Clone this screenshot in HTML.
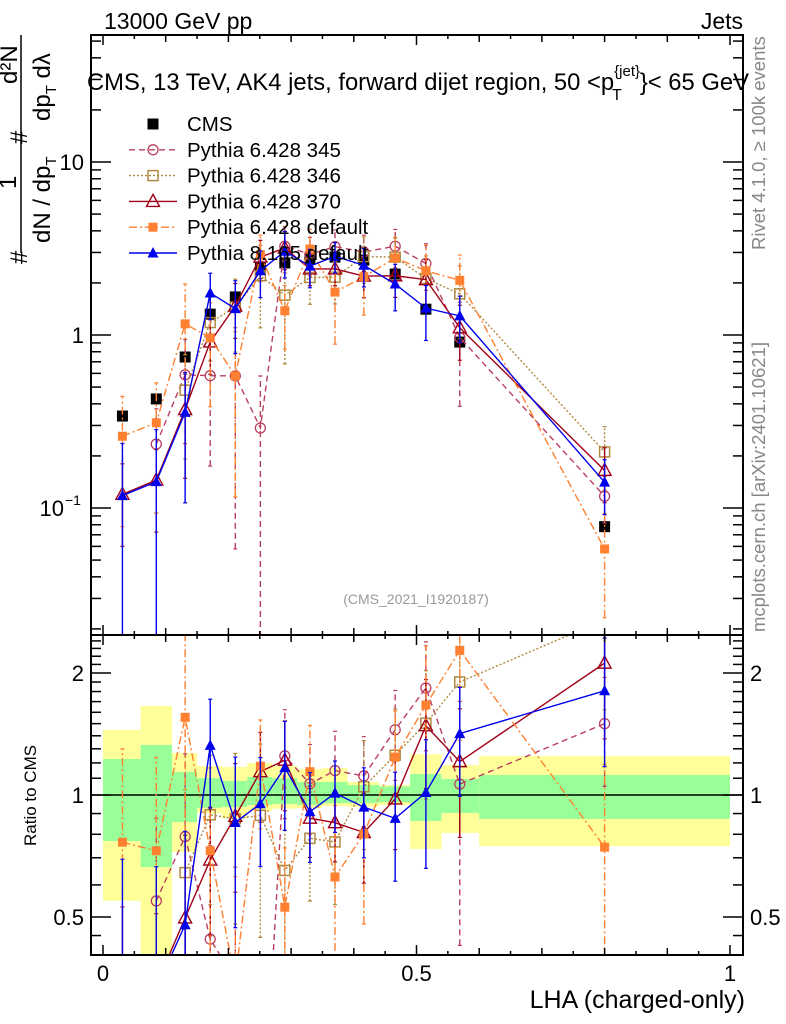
<!DOCTYPE html>
<html><head><meta charset="utf-8"><style>
html,body{margin:0;padding:0;background:#fff;overflow:hidden;width:786px;height:1024px}
svg{display:block}
svg text{font-family:"Liberation Sans",sans-serif}
</style></head><body>
<svg id="c" width="786" height="1024" xmlns="http://www.w3.org/2000/svg">
<defs>
<clipPath id="cpTop"><rect x="91" y="35" width="652" height="600"/></clipPath>
<clipPath id="cpBot"><rect x="91" y="635" width="652" height="320"/></clipPath>
</defs>
<g id="bands" clip-path="url(#cpBot)"></g>
<g id="topMarks" clip-path="url(#cpTop)"></g>
<g id="botMarks" clip-path="url(#cpBot)"></g>
<g id="axes"></g>
<text x="104" y="29" font-size="23">13000 GeV pp</text>
<text x="743" y="29" font-size="23" text-anchor="end">Jets</text>
<text x="87" y="90" font-size="23.8">CMS, 13 TeV, AK4 jets, forward dijet region, 50 &lt;p<tspan font-size="15" dy="-14">{jet}</tspan><tspan font-size="16" dx="-28" dy="24">T</tspan><tspan dx="18" dy="-10">}&lt; 65 GeV</tspan></text>
<text x="416" y="604" font-size="14" fill="#999" text-anchor="middle">(CMS_2021_I1920187)</text>
<g transform="translate(765,250) rotate(-90)"><text font-size="18.5" fill="#888">Rivet 4.1.0, ≥ 100k events</text></g>
<g transform="translate(765,632) rotate(-90)"><text font-size="18.5" fill="#888">mcplots.cern.ch [arXiv:2401.10621]</text></g>
<g>
<g transform="translate(27,264) rotate(-90)"><text font-size="24">#</text></g>
<g transform="translate(16,189) rotate(-90)"><text font-size="24">1</text></g>
<line x1="21" y1="35" x2="21" y2="253" stroke="#000" stroke-width="1.5"/>
<g transform="translate(50,243) rotate(-90)"><text font-size="24">dN / dp<tspan font-size="15" dy="6">T</tspan></text></g>
<g transform="translate(27,144) rotate(-90)"><text font-size="24">#</text></g>
<g transform="translate(50,121) rotate(-90)"><text font-size="24">dp<tspan font-size="15" dy="6">T</tspan><tspan dy="-6"> dλ</tspan></text></g>
<g transform="translate(17,84) rotate(-90)"><text font-size="24">d²N</text></g>
</g>
<g transform="translate(36,846) rotate(-90)"><text font-size="17">Ratio to CMS</text></g>
<text x="745" y="1008" font-size="25" text-anchor="end">LHA (charged-only)</text>
<g id="legend"></g>
</svg>
<script>
const xs = [0.031,0.085,0.131,0.171,0.211,0.251,0.290,0.330,0.370,0.416,0.466,0.515,0.569,0.800];
const binEdges = [0,0.06,0.11,0.15,0.19,0.23,0.27,0.31,0.35,0.39,0.44,0.49,0.54,0.60,1.0];
const cms = [0.34,0.427,0.746,1.32,1.66,2.47,2.61,2.75,2.82,2.71,2.25,1.41,0.91,0.078];
const yellowHi = [1.447,1.658,1.27,1.179,1.173,1.199,1.18,1.159,1.165,1.077,1.058,1.26,1.186,1.248];
const yellowLo = [0.548,0.35,0.723,0.902,0.877,0.913,0.925,0.929,0.94,0.934,0.945,0.736,0.806,0.748];
const greenHi = [1.227,1.329,1.14,1.1,1.083,1.108,1.1,1.077,1.077,1.058,1.05,1.127,1.095,1.12];
const greenLo = [0.77,0.664,0.858,0.93,0.934,0.945,0.95,0.945,0.955,0.955,0.96,0.863,0.903,0.873];
const p345 = [null,0.234,0.589,0.582,0.58,0.29,3.26,2.93,3.24,3.02,3.26,2.59,0.968,0.117];
const p346 = [null,null,0.48,1.18,1.45,2.2,1.70,2.15,2.16,2.84,2.82,2.12,1.73,0.211];
const p370 = [0.12,0.145,0.371,0.912,1.47,2.82,3.18,2.41,2.41,2.19,2.2,2.09,1.10,0.165];
const pdef = [0.26,0.311,1.16,0.962,0.58,2.91,1.38,3.14,1.77,2.17,2.79,2.35,2.07,0.058];
const p8 = [0.118,0.142,0.357,1.75,1.42,2.35,3.05,2.50,2.85,2.53,1.97,1.43,1.29,0.141];
const e345 = [0.6,0.6,0.6,0.7,0.9,1.0,0.3,0.25,0.25,0.25,0.25,0.3,0.6,0.3];
const e346 = [0.6,0.6,0.6,0.4,0.45,0.5,0.6,0.3,0.3,0.3,0.3,0.35,0.45,0.4];
const e370 = [0.5,0.5,0.6,0.35,0.35,0.25,0.25,0.2,0.2,0.25,0.25,0.3,0.35,0.35];
const edef = [0.7,0.7,0.7,0.6,0.8,0.3,0.4,0.3,0.5,0.4,0.3,0.4,0.4,0.6];
const e8 = [1.0,1.0,0.7,0.3,0.45,0.3,0.3,0.25,0.2,0.25,0.3,0.35,0.3,0.35];
const xTickLabels = ["0","0.5","1"];
const ratioTickLabels = ["0.5","1","2"];

const NS="http://www.w3.org/2000/svg";
const X=v=>103+627*v;
const YT=v=>335-173*Math.log10(v);
const YR=r=>795-122*Math.log2(r);
function mk(tag,attrs,parent){const e=document.createElementNS(NS,tag);for(const k in attrs)e.setAttribute(k,attrs[k]);parent.appendChild(e);return e;}
const bands=document.getElementById('bands'),top_=document.getElementById('topMarks'),bot=document.getElementById('botMarks'),axes=document.getElementById('axes'),leg=document.getElementById('legend');

for(let i=0;i<xs.length;i++){
  const x0=X(binEdges[i]),x1=X(binEdges[i+1]);
  const y=mk('rect',{x:x0,y:YR(yellowHi[i]),width:x1-x0,height:YR(yellowLo[i])-YR(yellowHi[i]),fill:'#ffff99'},bands);
  
  
  const g=mk('rect',{x:x0,y:YR(greenHi[i]),width:x1-x0,height:YR(greenLo[i])-YR(greenHi[i]),fill:'#99ff99'},bands);
  
  
}
const one=mk('line',{x1:91,x2:743,y1:YR(1),y2:YR(1),stroke:'#000','stroke-width':1.5},bands);



const series=[
 {name:'pythia-6-345',label:'Pythia 6.428 345',vals:p345,err:e345,color:'#b8405e',dash:'6,4',mk:'circle'},
 {name:'pythia-6-346',label:'Pythia 6.428 346',vals:p346,err:e346,color:'#b08a40',dash:'2,2',mk:'osquare'},
 {name:'pythia-6-370',label:'Pythia 6.428 370',vals:p370,err:e370,color:'#a00018',dash:'',mk:'otri'},
 {name:'pythia-6-default',label:'Pythia 6.428 default',vals:pdef,err:edef,color:'#ff8030',dash:'8,3,2,3',mk:'fsquare'},
 {name:'pythia-8-default',label:'Pythia 8.165 default',vals:p8,err:e8,color:'#0000ee',dash:'',mk:'ftri'}
];
function marker(type,x,y,color,parent){
  let e;
  if(type==='circle')e=mk('circle',{cx:x,cy:y,r:5,fill:'none',stroke:color,'stroke-width':1.3},parent);
  else if(type==='osquare')e=mk('rect',{x:x-5,y:y-5,width:10,height:10,fill:'#fff','fill-opacity':0,stroke:color,'stroke-width':1.5},parent);
  else if(type==='fsquare')e=mk('rect',{x:x-4.5,y:y-4.5,width:9,height:9,fill:color},parent);
  else if(type==='bsquare')e=mk('rect',{x:x-5.5,y:y-5.5,width:11,height:11,fill:'#000'},parent);
  else if(type==='otri')e=mk('polygon',{points:`${x},${y-7} ${x-6.5},${y+5} ${x+6.5},${y+5}`,fill:'none',stroke:color,'stroke-width':1.4},parent);
  else e=mk('polygon',{points:`${x},${y-6} ${x-5.5},${y+4.5} ${x+5.5},${y+4.5}`,fill:color},parent);
  return e;
}
function drawSeries(s,parent,yf,valf){
  let pts=[];
  for(let i=0;i<xs.length;i++){
    const v=valf(i);
    if(v==null){if(pts.length>1){const pl=mk('polyline',{points:pts.join(' '),fill:'none',stroke:s.color,'stroke-width':1.4,'stroke-dasharray':s.dash},parent);}pts=[];continue;}
    pts.push(X(xs[i])+','+yf(v));
  }
  if(pts.length>1){const pl=mk('polyline',{points:pts.join(' '),fill:'none',stroke:s.color,'stroke-width':1.4,'stroke-dasharray':s.dash},parent);
    
    }
  for(let i=0;i<xs.length;i++){
    const v=valf(i);if(v==null)continue;
    const x=X(xs[i]),lo=v*Math.max(1-s.err[i],0.001),hi=v*(1+s.err[i]);
    const eb=mk('line',{x1:x,x2:x,y1:yf(lo),y2:yf(hi),stroke:s.color,'stroke-width':1.4,'stroke-dasharray':s.dash},parent);
    
    
    mk('line',{x1:x-2,x2:x+2,y1:yf(hi),y2:yf(hi),stroke:s.color,'stroke-width':1.2},parent);
    mk('line',{x1:x-2,x2:x+2,y1:yf(lo),y2:yf(lo),stroke:s.color,'stroke-width':1.2},parent);
    const m=marker(s.mk,x,yf(v),s.color,parent);
    
    
  }
}
for(let i=0;i<xs.length;i++){
  const m=marker('bsquare',X(xs[i]),YT(cms[i]),'#000',top_);
  
  
}
for(const s of series){
  drawSeries(s,top_,YT,i=>s.vals[i]);
  drawSeries(s,bot,YR,i=>s.vals[i]==null?null:s.vals[i]/cms[i]);
}

for(const r of [[91,35,652,600],[91,635,652,320]]){
  const f=mk('rect',{x:r[0],y:r[1],width:r[2],height:r[3],fill:'none',stroke:'#000','stroke-width':2},axes);
  
  
}
for(let k=0;k<=20;k++){
  const v=k*0.05,x=X(v),len=(k%10===0)?20:(k%2===0?14:8);
  for(const yb of [635,955]){mk('line',{x1:x,x2:x,y1:yb-len/2,y2:yb,stroke:'#000','stroke-width':1.5},axes);}
  mk('line',{x1:x,x2:x,y1:35,y2:35+len/2,stroke:'#000','stroke-width':1.5},axes);
  mk('line',{x1:x,x2:x,y1:635,y2:635+len/2,stroke:'#000','stroke-width':1.5},axes);
}
xTickLabels.forEach((t,i)=>{const tl=mk('text',{x:X(i*0.5),y:981,'font-size':22,'text-anchor':'middle'},axes);tl.textContent=t;
  
  });
for(let d=-2;d<=1;d++){for(let m=1;m<=9;m++){const v=m*Math.pow(10,d);const y=YT(v);if(y<35||y>635)continue;
  const len=m===1?20:10;
  mk('line',{x1:91,x2:91+len,y1:y,y2:y,stroke:'#000','stroke-width':1.5},axes);
  mk('line',{x1:743-len,x2:743,y1:y,y2:y,stroke:'#000','stroke-width':1.5},axes);}}
const t10=mk('text',{x:84,y:170,'font-size':22,'text-anchor':'end'},axes);t10.textContent='10';


const t1=mk('text',{x:84,y:343,'font-size':22,'text-anchor':'end'},axes);t1.textContent='1';


const tm=mk('text',{x:64,y:516,'font-size':22,'text-anchor':'end'},axes);tm.textContent='10';


const tme=mk('text',{x:65,y:505,'font-size':14},axes);tme.textContent='−1';
for(const r of [0.45,0.5,0.6,0.7,0.8,0.9,1,1.1,1.2,1.3,1.4,1.5,1.6,1.7,1.8,1.9,2,2.1,2.2,2.3,2.4,2.5]){const y=YR(r);if(y<635||y>955)continue;
  const len=(r===0.5||r===1||r===2)?20:10;
  mk('line',{x1:91,x2:91+len,y1:y,y2:y,stroke:'#000','stroke-width':1.5},axes);
  mk('line',{x1:743-len,x2:743,y1:y,y2:y,stroke:'#000','stroke-width':1.5},axes);}
ratioTickLabels.forEach(t=>{const r=parseFloat(t);
  const a=mk('text',{x:84,y:YR(r)+8,'font-size':22,'text-anchor':'end'},axes);a.textContent=t;
  
  
  const b=mk('text',{x:750,y:YR(r)+8,'font-size':22},axes);b.textContent=t;
  
  });
const legRows=[{label:'CMS',mk:'bsquare',color:'#000',dash:null,name:'cms'}].concat(series);
legRows.forEach((s,i)=>{
  const y=124+i*25.8;
  const g=mk('g',{},leg);
  
  
  if(s.dash!==null)mk('line',{x1:129,x2:177,y1:y,y2:y,stroke:s.color,'stroke-width':1.4,'stroke-dasharray':s.dash},g);
  marker(s.mk,153,y,s.color,g);
  const t=mk('text',{x:187,y:y+7,'font-size':20.5},g);t.textContent=s.label;
});
</script>
</body></html>
